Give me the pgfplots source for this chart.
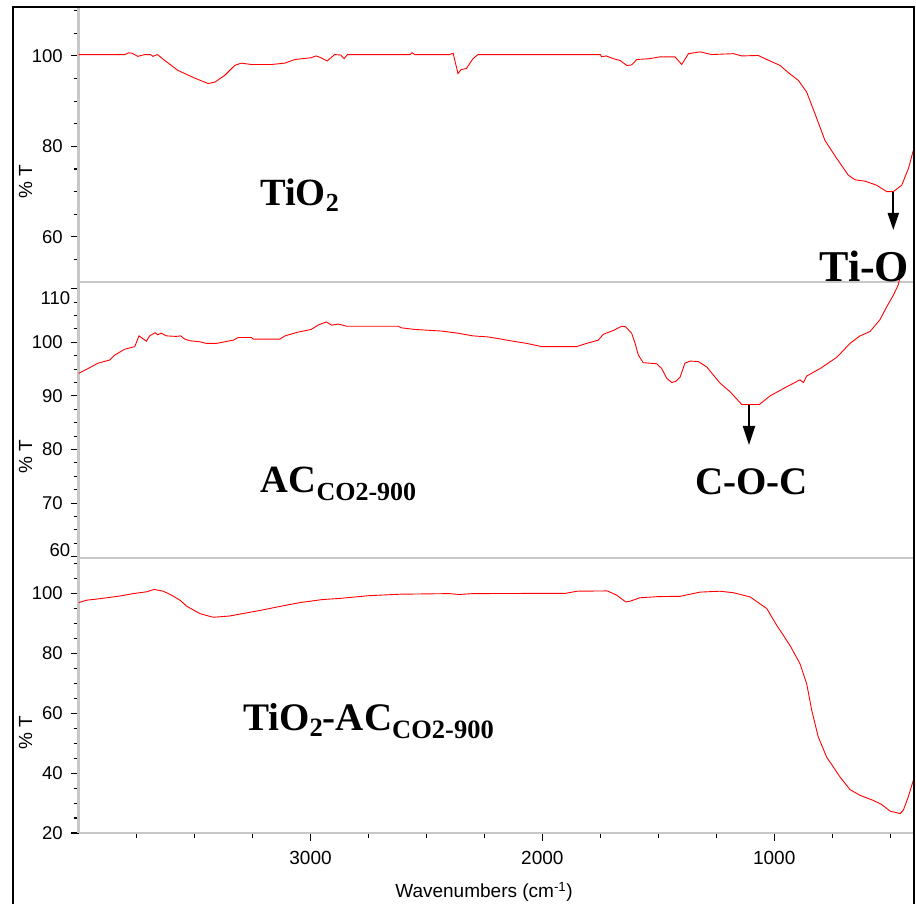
\documentclass[border=0pt]{standalone}
\usepackage{fontspec}
\setmainfont{Liberation Serif}
\newfontfamily\arial{Liberation Sans}
\usepackage{pgfplots}
\usepackage{pgfplotstable}
\pgfplotsset{compat=1.18}
\usetikzlibrary{arrows.meta}
\definecolor{axgray}{HTML}{C8C8C8}

\pgfplotstableread{
wn T
4000 100.3
3800 100.3
3785 100.7
3770 100.6
3745 99.9
3715 100.3
3690 100.3
3680 99.9
3660 100.3
3629 99.0
3572 96.8
3500 95.1
3442 93.9
3413 94.2
3370 95.7
3327 97.9
3299 98.4
3255 98.1
3169 98.1
3111 98.4
3068 99.2
2997 99.6
2976 100.0
2955 99.6
2928 98.9
2896 100.3
2870 100.2
2855 99.4
2841 100.3
2570 100.3
2562 100.7
2550 100.3
2400 100.3
2385 100.6
2364 96.1
2350 97.0
2328 97.2
2299 99.4
2278 100.3
1750 100.3
1744 99.8
1725 100.0
1694 99.4
1665 99.0
1636 97.9
1615 98.0
1593 99.2
1536 99.4
1493 99.8
1428 99.8
1399 98.1
1370 100.5
1320 100.9
1270 100.3
1176 100.5
1140 100.0
1069 100.1
1032 99.2
975 97.9
939 96.3
896 94.6
860 92.0
824 87.2
781 81.3
730 77.3
680 73.6
651 72.6
608 72.3
558 71.4
515 70.0
486 70.0
450 71.4
421 75.1
400 79.1
}\tio

\pgfplotstableread{
wn T
4000 94.2
3960 95.1
3917 96.1
3866 96.7
3845 97.6
3802 98.7
3758 99.2
3740 101.2
3708 100.2
3694 101.2
3670 101.8
3660 101.4
3644 101.7
3622 101.2
3580 101.1
3560 101.2
3543 100.6
3521 100.3
3478 100.1
3450 99.8
3405 99.8
3370 100.1
3333 100.4
3312 100.9
3255 100.9
3247 100.6
3132 100.6
3110 101.2
3054 101.9
2997 102.4
2968 103.2
2932 103.8
2909 103.2
2880 103.4
2844 103.0
2623 103.0
2608 102.7
2551 102.4
2436 102.1
2364 101.7
2300 101.2
2234 101.0
2191 100.7
2140 100.3
2068 99.8
2003 99.2
1852 99.2
1809 99.8
1759 100.4
1737 101.5
1694 102.2
1658 103.0
1641 102.9
1615 101.7
1600 99.8
1586 97.6
1565 96.2
1507 96.0
1485 95.1
1464 93.3
1442 92.5
1425 92.7
1406 93.5
1385 96.1
1363 96.5
1327 96.4
1291 95.4
1234 92.4
1191 90.8
1140 88.4
1064 88.4
1018 90.0
946 91.7
889 93.0
874 92.5
860 93.7
802 95.1
730 97.2
673 99.8
630 101.2
587 102.0
544 104.2
515 106.6
486 108.8
465 110.7
452 113.2
}\ac

\pgfplotstableread{
wn T
4000 97.0
3966 97.8
3908 98.3
3822 99.2
3765 100.0
3707 100.6
3675 101.4
3635 100.8
3600 99.5
3563 97.8
3534 95.8
3477 93.3
3420 92.1
3350 92.5
3217 94.4
3100 96.2
3045 97.0
2950 98.0
2873 98.4
2750 99.3
2614 99.8
2400 100.0
2360 99.7
2300 100.0
1900 100.1
1850 100.8
1720 100.9
1680 99.5
1640 97.2
1620 97.5
1580 98.6
1500 99.0
1405 99.1
1320 100.5
1234 100.8
1176 100.3
1104 98.9
1032 95.0
989 89.4
932 82.7
889 76.6
860 69.9
838 61.0
810 52.1
774 45.4
716 38.7
673 34.5
630 32.6
573 30.9
536 29.5
500 27.3
457 26.5
443 27.6
422 32.0
400 37.6
}\tioac

\pgfplotsset{panel/.style={
  scale only axis, width=834.6pt, anchor=south west,
  xmin=-4000, xmax=-400, enlargelimits=false,
  axis lines=left, axis line style={-, draw=axgray, line width=2.8pt},
  tick align=outside, tick style={black, line width=1.1pt},
  major tick length=7.5pt, minor tick length=4.5pt,
  tick label style={font=\arial\fontsize{18.5}{20}\selectfont},
  yticklabel style={xshift=-5pt},
  /pgf/number format/assume math mode=true,
  /pgf/number format/1000 sep={},
  xtick=\empty,
}}

\begin{document}
\begin{tikzpicture}
\useasboundingbox (0,0) rectangle (916pt,903pt);

% top panel
\begin{axis}[panel, at={(78.7pt,621pt)}, height=274pt,
  ymin=50, ymax=110.6, ytick={60,80,100},
  minor ytick={55,65,70,75,85,90,95,105,110}]
\addplot[red, line width=0.9pt] table[x expr=-\thisrow{wn}, y=T] {\tio};
\end{axis}

% middle panel
\begin{axis}[panel, at={(78.7pt,345pt)}, height=276pt, clip=false,
  ymin=59.76, ymax=111.25, ytick={60,70,80,90,100,110},
  yticklabels={{},70,80,90,100,{}},
  minor ytick={62.5,65,67.5,72.5,75,77.5,82.5,85,87.5,92.5,95,97.5,102.5,105,107.5},
  extra y ticks={61.2,108.2}, extra y tick labels={60,110},
  extra y tick style={major tick length=0pt}]
\addplot[red, line width=0.9pt] table[x expr=-\thisrow{wn}, y=T] {\ac};
\end{axis}

% bottom panel
\begin{axis}[panel, at={(78.7pt,70pt)}, height=275pt,
  ymin=20, ymax=111.9, ytick={20,40,60,80,100},
  minor ytick={25,30,35,45,50,55,65,70,75,85,90,95,105,110},
  xtick={-3000,-2000,-1000}, xticklabels={3000,2000,1000},
  minor xtick={-3750,-3500,-3250,-2750,-2500,-2250,-1750,-1500,-1250,-750,-500},
  x tick label style={font=\arial\fontsize{19}{21}\selectfont, yshift=-7pt}]
\addplot[red, line width=0.9pt] table[x expr=-\thisrow{wn}, y=T] {\tioac};
\end{axis}

% outer frame
\draw[black, line width=2.2pt] (12.7pt,-3pt) -- (12.7pt,895.7pt) -- (913.9pt,895.7pt) -- (913.9pt,-3pt);

% axis titles
\foreach \yy in {721,446,170}
  \node[rotate=90, font=\arial\fontsize{19}{21}\selectfont, inner sep=0] at (25.5pt,\yy pt) {\% T};
\node[font=\arial\fontsize{19}{21}\selectfont, inner sep=0] at (484pt,11pt) {Wavenumbers (cm\textsuperscript{-1})};

% annotations
\node[anchor=base west, inner sep=0, font=\bfseries\fontsize{38.5}{40}\selectfont] at (260pt,697pt)
  {TiO\raisebox{-5.7pt}{\fontsize{26}{28}\selectfont 2}};
\node[anchor=base west, inner sep=0, font=\bfseries\fontsize{38.5}{40}\selectfont] at (260.7pt,410pt)
  {AC\raisebox{-7.7pt}{\fontsize{26}{28}\selectfont CO2-900}};
\node[anchor=base west, inner sep=0, font=\bfseries\fontsize{39}{41}\selectfont] at (243pt,172pt)
  {TiO\raisebox{-5.7pt}{\fontsize{26.5}{28}\selectfont 2}-AC\raisebox{-7.7pt}{\fontsize{26.5}{28}\selectfont CO2-900}};
\node[anchor=base west, inner sep=0, font=\bfseries\fontsize{39}{41}\selectfont] at (695pt,408pt) {C-O-C};
\node[anchor=base east, inner sep=0, font=\bfseries\fontsize{44}{46}\selectfont] at (909.3pt,621.3pt) {Ti-O};

% arrows
\draw[line width=2pt, -{Triangle[width=11pt,length=17pt]}] (893.3pt,711.3pt) -- (893.3pt,673pt);
\draw[line width=2pt, -{Triangle[width=12pt,length=19pt]}] (749pt,498pt) -- (749pt,458pt);
\end{tikzpicture}
\end{document}
